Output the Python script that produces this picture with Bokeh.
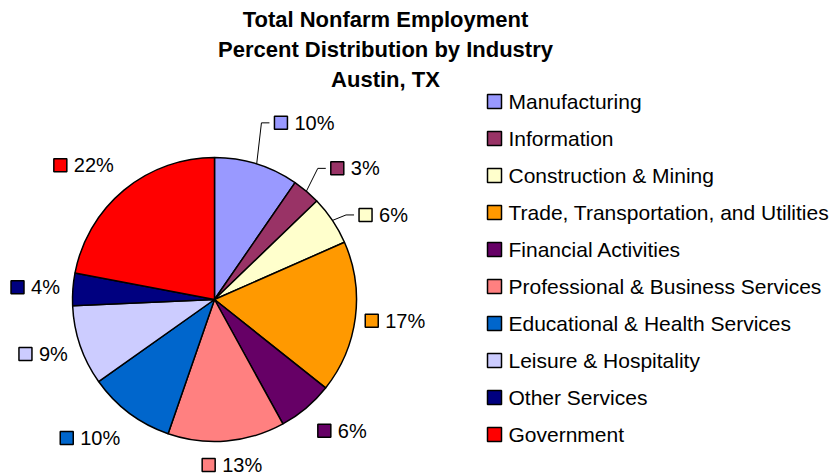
import math
from bokeh.plotting import figure
from bokeh.models import Range1d, ColumnDataSource
from bokeh.embed import file_html
from bokeh.resources import INLINE
from bokeh.core.properties import value

# ---------------- data ----------------
categories = [
    "Manufacturing",
    "Information",
    "Construction & Mining",
    "Trade, Transportation, and Utilities",
    "Financial Activities",
    "Professional & Business Services",
    "Educational & Health Services",
    "Leisure & Hospitality",
    "Other Services",
    "Government",
]
shares = [9.6, 3.2, 5.6, 17.3, 6.3, 13.3, 9.9, 9.1, 3.7, 22.0]
colors = ["#9999FF", "#993366", "#FFFFCC", "#FF9900", "#660066",
          "#FF8080", "#0066CC", "#CCCCFF", "#000080", "#FF0000"]
title_lines = ["Total Nonfarm Employment",
               "Percent Distribution by Industry",
               "Austin, TX"]

# ---------------- layout ----------------
W, H = 836, 476
CX, CY, R = 214, H - 299, 142
label_r = [185, 172, 168, 151, 160, 157, 162, 155, 155, 160]
label_dy = [0, 0, -9, 0, 0, 0, 0, 0, 0, 2]
leader = [True, True, True, False, False, False, False, False, False, False]
FONT = "Liberation Sans"
LABEL_PX = 20
LEGEND_PX = 21
TITLE_PX = 22

total = sum(shares)
labels = [f"{round(v)}%" for v in shares]

starts, ends, mids = [], [], []
cum = 0.0
for v in shares:
    t0 = cum / total * 2 * math.pi
    cum += v
    t1 = cum / total * 2 * math.pi
    starts.append(math.pi / 2 - t1)
    ends.append(math.pi / 2 - t0)
    mids.append((t0 + t1) / 2)

p = figure(width=W, height=H, x_range=Range1d(0, W), y_range=Range1d(0, H),
           output_backend="svg", toolbar_location=None, min_border=0,
           x_axis_type=None, y_axis_type=None)
p.grid.visible = False
p.outline_line_color = None
p.background_fill_color = "white"
p.border_fill_color = "white"

src = ColumnDataSource(dict(start=starts, end=ends, color=colors))
p.wedge(x=CX, y=CY, radius=R, start_angle="start", end_angle="end",
        direction="anticlock", fill_color="color", line_color="black",
        line_width=1.5, source=src)

def tw(s, px):
    return sum(0.889 if ch == "%" else 0.556 for ch in s) * px

def clamp(v):
    return max(-1.0, min(1.0, v))

BOX = 13
GAP = 6
lh = 18
bx, by, bc, tx_, ty_, tt = [], [], [], [], [], []
lxs, lys = [], []
for i, th in enumerate(mids):
    s, c = math.sin(th), math.cos(th)
    ax = CX + label_r[i] * s
    ay = CY + label_r[i] * c + label_dy[i]
    gw = BOX + 2 + GAP + tw(labels[i], LABEL_PX)
    if leader[i]:
        ex, ey = CX + R * s, CY + R * c
        lxs.append([ex, ax - 8, ax])
        lys.append([ey, ay, ay])
        left = ax + 4
        cy = ay
    else:
        cx = ax + gw / 2 * clamp(1.5 * s)
        cy = ay + lh / 2 * clamp(1.5 * c)
        left = cx - gw / 2
    bx.append(left + (BOX + 2) / 2)
    by.append(cy)
    bc.append(colors[i])
    tx_.append(left + BOX + 2 + GAP)
    ty_.append(cy)
    tt.append(labels[i])

p.multi_line(xs=lxs, ys=lys, line_color="black", line_width=1)
p.rect(x=bx, y=by, width=BOX, height=BOX, fill_color=bc,
       line_color="black", line_width=1.5)
p.text(x=tx_, y=ty_, text=tt, text_font=value(FONT),
       text_font_size=value(f"{LABEL_PX}px"), text_baseline="middle",
       text_align="left", text_color="black")

# legend
LEG_X, LEG_Y0, LEG_DY = 494, H - 101, 37
leg_y = [LEG_Y0 - LEG_DY * i for i in range(len(categories))]
p.rect(x=[LEG_X] * len(categories), y=leg_y, width=BOX + 1, height=BOX + 1,
       fill_color=colors, line_color="black", line_width=1.5)
p.text(x=[LEG_X + 14] * len(categories), y=leg_y, text=categories,
       text_font=value(FONT), text_font_size=value(f"{LEGEND_PX}px"),
       text_baseline="middle", text_align="left", text_color="black")

# title
p.text(x=[385] * 3, y=[H - 19 - 30 * i for i in range(3)], text=title_lines,
       text_font=value(FONT), text_font_size=value(f"{TITLE_PX}px"),
       text_font_style="bold", text_baseline="middle", text_align="center",
       text_color="black")

open("out.html", "w").write(file_html(p, INLINE))
